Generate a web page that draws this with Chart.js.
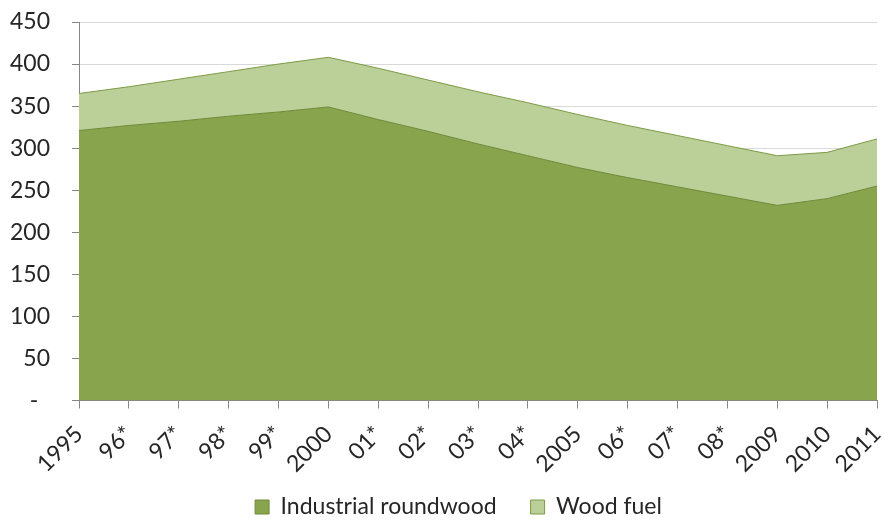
<!DOCTYPE html>
<html><head><meta charset="utf-8">
<script src="https://cdn.jsdelivr.net/npm/chart.js@4/dist/chart.umd.min.js"></script>
<style>html,body{margin:0;padding:0;background:#fff}#wrap{width:884px;height:524px}</style>
</head><body><div id="wrap"><canvas id="c" width="884" height="524"></canvas></div>
<script>
const categories = ['1995','96*','97*','98*','99*','2000','01*','02*','03*','04*','2005','06*','07*','08*','2009','2010','2011'];
const industrialRoundwood = [321, 327, 332, 338, 343, 349, 334, 320, 305, 291, 277, 265, 254, 243, 232, 240, 255];
const woodFuel = [44, 46, 50, 53, 57, 59, 61, 61, 62, 63, 63, 62, 61, 60, 59, 55, 56];
const yTicks = [0, 50, 100, 150, 200, 250, 300, 350, 400, 450];

const FONT = 'Lato';
const FS = 23;
const TXT = '#262626';

const shiftLegend = {
  id: 'shiftLegend',
  afterLayout(chart) {
    const lg = chart.legend;
    if (lg) { lg.left += 20; lg.right += 20; lg.top -= 14; lg.bottom -= 14; }
  }
};

new Chart(document.getElementById('c'), {
  type: 'line',
  data: {
    labels: categories,
    datasets: [
      { label: 'Industrial roundwood', data: industrialRoundwood, fill: 'origin',
        backgroundColor: '#88A44C', borderColor: '#6F8A3A', borderWidth: 1, pointRadius: 0, tension: 0 },
      { label: 'Wood fuel', data: woodFuel, fill: '-1',
        backgroundColor: '#BBCF99', borderColor: '#7D9A46', borderWidth: 1, pointRadius: 0, tension: 0 }
    ]
  },
  plugins: [shiftLegend],
  options: {
    responsive: false,
    animation: false,
    layout: { padding: { top: 22, right: 7, bottom: -18.5, left: 0 } },
    plugins: {
      tooltip: { enabled: false },
      legend: {
        position: 'bottom',
        labels: { font: { family: FONT, size: FS }, color: TXT, boxWidth: 14, boxHeight: 14, padding: 34 }
      }
    },
    scales: {
      x: {
        offset: false,
        grid: { drawOnChartArea: false, drawTicks: true, tickLength: 8, tickColor: '#868686' },
        border: { color: '#868686', width: 1 },
        ticks: { autoSkip: false, maxRotation: 45, minRotation: 45, padding: 12, color: TXT, font: { family: FONT, size: FS } },
        afterFit: s => { s.height = 75; s.paddingRight = 0; s.paddingLeft = 0; }
      },
      y: {
        stacked: true,
        min: 0, max: 450,
        afterBuildTicks: s => { s.ticks = yTicks.map(v => ({ value: v })); },
        grid: { color: '#D9D9D9', tickLength: 7, tickColor: '#868686' },
        border: { color: '#868686', width: 1 },
        ticks: { padding: 22, color: TXT, font: { family: FONT, size: FS },
          callback: v => v === 0 ? '-  ' : String(v) },
        afterFit: s => { s.width = 79; s.paddingTop = 0; s.paddingBottom = 0; }
      }
    }
  }
});
</script>
</body></html>
